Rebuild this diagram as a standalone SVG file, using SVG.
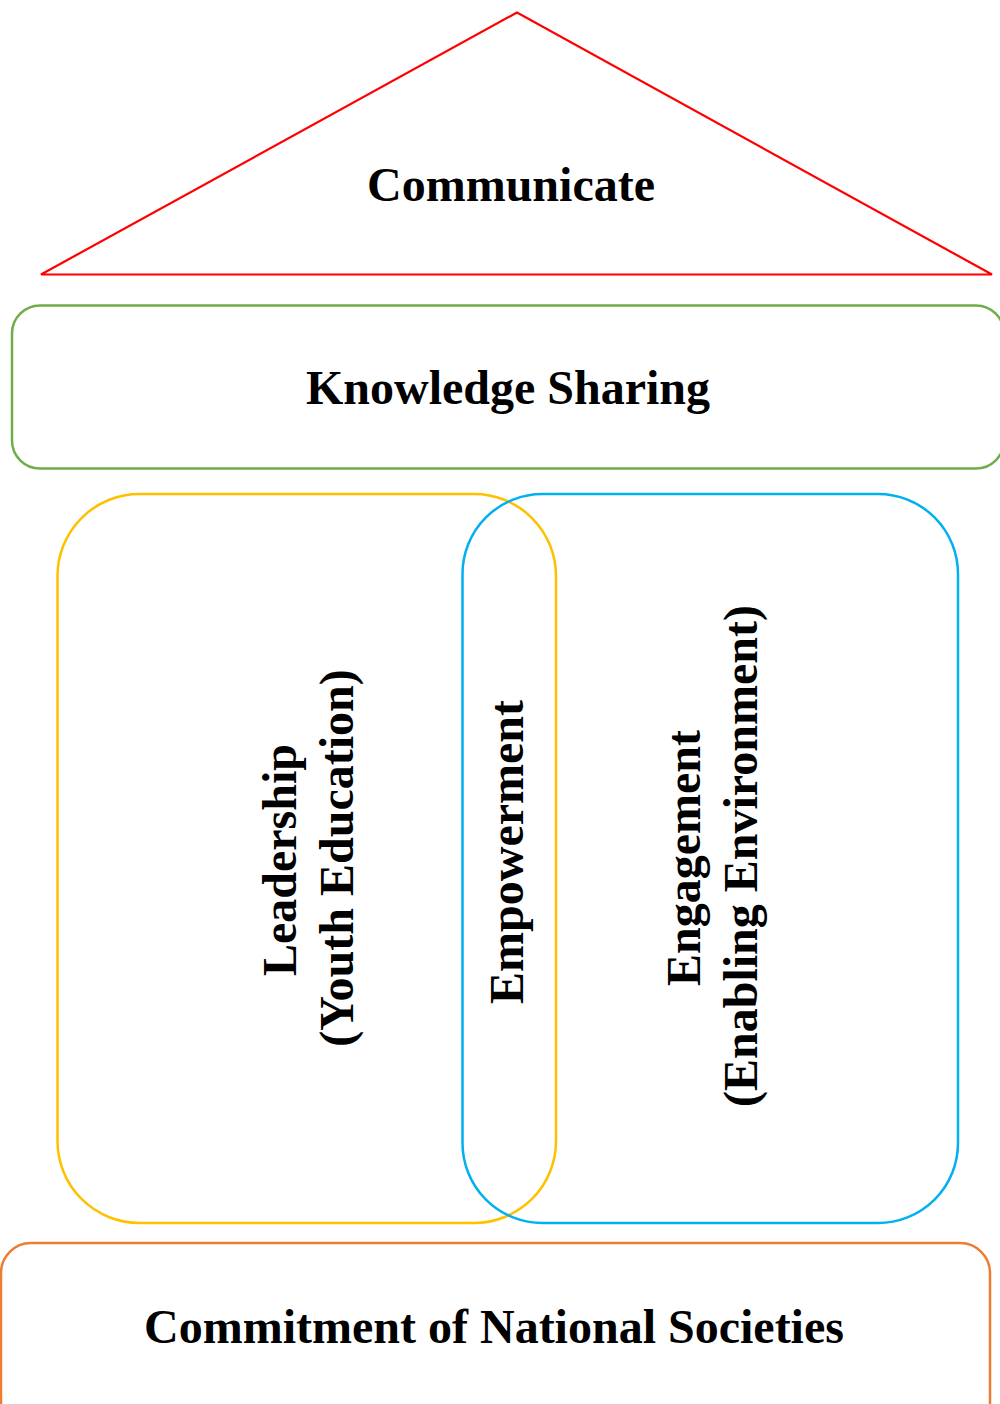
<svg xmlns="http://www.w3.org/2000/svg" width="1000" height="1404" viewBox="0 0 1000 1404">
<style>
.lbl{font-family:"Liberation Serif","Times New Roman",serif;font-weight:bold;font-size:48px;fill:#000;text-anchor:middle}
.shape{fill:none}
</style>
<rect width="1000" height="1404" fill="#fff"/>
<g id="communicate">
<polygon class="shape" points="517,12.5 41,274.5 992,274.5" stroke="#FF0000" stroke-width="2.2"/>
<text class="lbl" x="511" y="201">Communicate</text>
</g>
<g id="knowledge-sharing">
<rect class="shape" x="12" y="305.5" width="992" height="163" rx="28" ry="28" stroke="#70AD47" stroke-width="2.5"/>
<text class="lbl" x="508" y="404">Knowledge Sharing</text>
</g>
<g id="leadership">
<rect class="shape" x="57.5" y="494" width="498.5" height="729" rx="82" ry="82" stroke="#FFC000" stroke-width="2.5"/>
<text class="lbl" transform="translate(296,860) rotate(-90)" x="0" y="0">Leadership</text>
<text class="lbl" transform="translate(353,858) rotate(-90)" x="0" y="0">(Youth Education)</text>
</g>
<g id="engagement">
<rect class="shape" x="462.5" y="494" width="495.5" height="729" rx="80" ry="80" stroke="#00B0F0" stroke-width="2.5"/>
<text class="lbl" transform="translate(700,858) rotate(-90)" x="0" y="0">Engagement</text>
<text class="lbl" transform="translate(757,856) rotate(-90)" x="0" y="0">(Enabling Environment)</text>
</g>
<g id="empowerment">
<text class="lbl" transform="translate(523,852) rotate(-90)" x="0" y="0">Empowerment</text>
</g>
<g id="commitment">
<rect class="shape" x="1" y="1243" width="989" height="200" rx="30" ry="30" stroke="#ED7D31" stroke-width="2.5"/>
<text class="lbl" x="494" y="1343">Commitment of National Societies</text>
</g>
<g id="connectors"></g>
</svg>
